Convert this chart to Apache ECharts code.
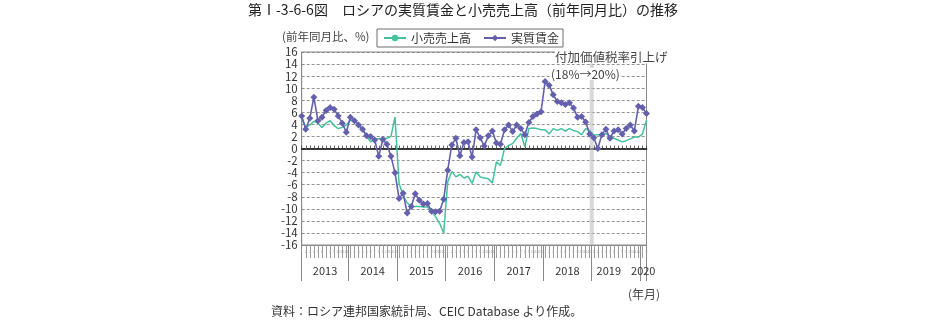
<!DOCTYPE html>
<html><head><meta charset="utf-8">
<script src="https://cdn.jsdelivr.net/npm/echarts@6/dist/echarts.min.js"></script>
<style>html,body{margin:0;padding:0;background:#fff}#c{width:932px;height:323px}</style>
</head><body><div id="c"></div>
<script>
// ---- data (year-on-year %, monthly Jan 2013 – Feb 2020) ----
const years = [2013, 2014, 2015, 2016, 2017, 2018, 2019, 2020];
const yearTickLabels = ['2013','2014','2015','2016','2017','2018','2019','2020'];
const wage2013 = [5.4, 3.2, 5.0, 8.5, 4.6, 5.2, 6.3, 6.8, 6.5, 5.4, 4.2, 2.7];
const wage2014 = [5.2, 4.6, 3.9, 3.2, 2.1, 2.0, 1.4, -1.3, 1.5, 0.7, -1.3, -4.0];
const wage2015 = [-8.3, -7.4, -10.7, -9.6, -7.5, -8.6, -9.2, -9.1, -10.4, -10.5, -10.4, -8.4];
const wage2016 = [-3.6, 0.6, 1.7, -1.2, 1.0, 1.1, -1.4, 3.1, 1.8, 0.4, 2.1, 2.9];
const wage2017 = [0.9, 0.7, 3.1, 3.9, 2.8, 3.9, 3.3, 2.3, 4.3, 5.3, 5.7, 6.1];
const wage2018 = [11.1, 10.5, 8.9, 7.8, 7.6, 7.3, 7.6, 6.7, 5.2, 5.3, 4.4, 2.4];
const wage2019 = [1.8, 0.0, 2.3, 3.2, 1.7, 2.9, 3.1, 2.4, 3.3, 3.9, 2.9, 7.0];
const wage2020 = [6.8, 5.8];
const retail2013 = [5.0, 3.5, 3.9, 4.5, 4.2, 3.5, 4.2, 4.6, 3.8, 3.3, 3.5, 3.9];
const retail2014 = [4.7, 4.5, 4.2, 3.1, 2.0, 1.1, 1.6, 1.6, 1.7, 1.7, 2.0, 5.2];
const retail2015 = [-5.8, -7.8, -9.0, -9.6, -9.6, -9.6, -9.7, -9.7, -10.4, -11.3, -12.4, -14.0];
const retail2016 = [-5.5, -3.8, -4.7, -4.3, -4.9, -4.6, -5.8, -3.9, -4.7, -4.9, -5.0, -5.7];
const retail2017 = [-2.2, -2.8, 0.0, 0.5, 0.8, 1.7, 2.5, 0.3, 3.3, 3.4, 3.3, 3.1];
const retail2018 = [3.1, 2.4, 3.3, 3.0, 3.3, 2.9, 3.3, 3.0, 2.8, 2.3, 3.3, 2.9];
const retail2019 = [2.2, 2.3, 2.3, 2.5, 1.9, 1.7, 1.4, 1.1, 1.3, 1.6, 1.9, 1.9];
const retail2020 = [2.4, 4.7];
const yTicks = [-16,-14,-12,-10,-8,-6,-4,-2,0,2,4,6,8,10,12,14,16];

const wage = [].concat(wage2013, wage2014, wage2015, wage2016, wage2017, wage2018, wage2019, wage2020);
const retail = [].concat(retail2013, retail2014, retail2015, retail2016, retail2017, retail2018, retail2019, retail2020);
const months = [];
years.forEach(y => { for (let m = 1; m <= 12; m++) { if (months.length < wage.length) months.push(y + '-' + (m < 10 ? '0' + m : m)); } });
const N = months.length - 1;
const sepVals = [0];
for (let i = 1; i < years.length; i++) sepVals.push(i * 12 - 0.5);
sepVals.push(N);
const yearLabelVals = [5.75, 17.5, 29.5, 41.5, 53.5, 65.5, 75.7, 84.2];

const FONT = '"Noto Sans CJK JP", "Noto Sans", sans-serif';
const chart = echarts.init(document.getElementById('c'), null, {renderer: 'canvas'});
chart.setOption({
  animation: false,
  textStyle: {fontFamily: FONT},
  grid: {left: 301.7, right: 285.5, top: 52, bottom: 78, show: true, borderColor: '#8a8a8a', borderWidth: 1, backgroundColor: 'transparent'},
  legend: {
    left: 377, top: 29, orient: 'horizontal',
    data: ['小売売上高', '実質賃金'],
    borderColor: '#6e6e6e', borderWidth: 1, padding: [3, 4, 3, 6],
    itemWidth: 22, itemHeight: 8, itemGap: 12,
    textStyle: {fontSize: 12, color: '#333', fontFamily: FONT}
  },
  xAxis: [
    { type: 'category', data: months, boundaryGap: false, gridIndex: 0, position: 'bottom',
      axisLine: {show: true, onZero: false, lineStyle: {color: '#8a8a8a'}},
      axisTick: {show: true, interval: 0, length: 13, lineStyle: {color: '#9a9a9a', width: 1}},
      axisLabel: {show: true, interval: 0, fontSize: 4, color: '#aaa', margin: 4,
        formatter: v => String(parseInt(v.slice(5), 10))},
      splitLine: {show: false}
    },
    { type: 'value', min: 0, max: N, gridIndex: 0, position: 'bottom',
      axisLine: {show: false, onZero: false},
      axisTick: {show: true, customValues: sepVals, length: 36, lineStyle: {color: '#8a8a8a', width: 1}},
      axisLabel: {show: true, customValues: yearLabelVals, margin: 20, fontSize: 11, color: '#333',
        formatter: v => { const i = yearLabelVals.indexOf(v); return i >= 0 ? yearTickLabels[i] : ''; }},
      splitLine: {show: false}
    },
    { type: 'category', data: months, boundaryGap: false, gridIndex: 0, position: 'bottom',
      axisLine: {show: true, onZero: true, lineStyle: {color: '#000', width: 1.6}},
      axisTick: {show: true, interval: 0, inside: true, length: 3, lineStyle: {color: '#444', width: 0.8}},
      axisLabel: {show: false}, splitLine: {show: false}
    }
  ],
  yAxis: {
    type: 'value', min: -16, max: 16, interval: 2,
    axisLine: {show: true, onZero: false, lineStyle: {color: '#8a8a8a'}},
    axisTick: {show: false},
    axisLabel: {fontSize: 11.5, color: '#333', margin: 4},
    splitLine: {show: true, lineStyle: {color: '#777', type: [3, 2], width: 0.8}}
  },
  series: [
    { name: '小売売上高', type: 'line', xAxisIndex: 0, data: retail, showSymbol: false, symbol: 'none',
      lineStyle: {color: '#44c19d', width: 1.5}, itemStyle: {color: '#44c19d'}, z: 3,
      markArea: {silent: true, itemStyle: {color: 'rgba(190,190,190,0.6)'},
        data: [[{xAxis: '2018-12'}, {xAxis: '2019-01'}]]}
    },
    { name: '実質賃金', type: 'line', xAxisIndex: 0, data: wage, symbol: 'diamond', symbolSize: 7, showSymbol: true,
      lineStyle: {color: '#6460ad', width: 1.6}, itemStyle: {color: '#6460ad'}, z: 4 }
  ],
  graphic: [
    {type: 'text', left: 248, top: 3, style: {text: '第Ⅰ-3-6-6図　ロシアの実質賃金と小売売上高（前年同月比）の推移', fontSize: 14, fill: '#222', fontFamily: FONT}},
    {type: 'text', left: 282, top: 31, style: {text: '(前年同月比、%)', fontSize: 11.5, fill: '#444', fontFamily: FONT}},
    {type: 'text', left: 555, top: 51, z: 10, style: {text: '付加価値税率引上げ', fontSize: 12.5, fill: '#444', fontFamily: FONT, backgroundColor: '#fff'}},
    {type: 'text', left: 551, top: 68, z: 10, style: {text: '(18%→20%)', fontSize: 12, fill: '#444', fontFamily: FONT, backgroundColor: '#fff'}},
    {type: 'text', left: 628, top: 288, style: {text: '(年月)', fontSize: 12, fill: '#444', fontFamily: FONT}},
    {type: 'text', left: 271, top: 305, style: {text: '資料：ロシア連邦国家統計局、CEIC Database より作成。', fontSize: 12, fill: '#333', fontFamily: FONT}}
  ]
});
</script></body></html>
